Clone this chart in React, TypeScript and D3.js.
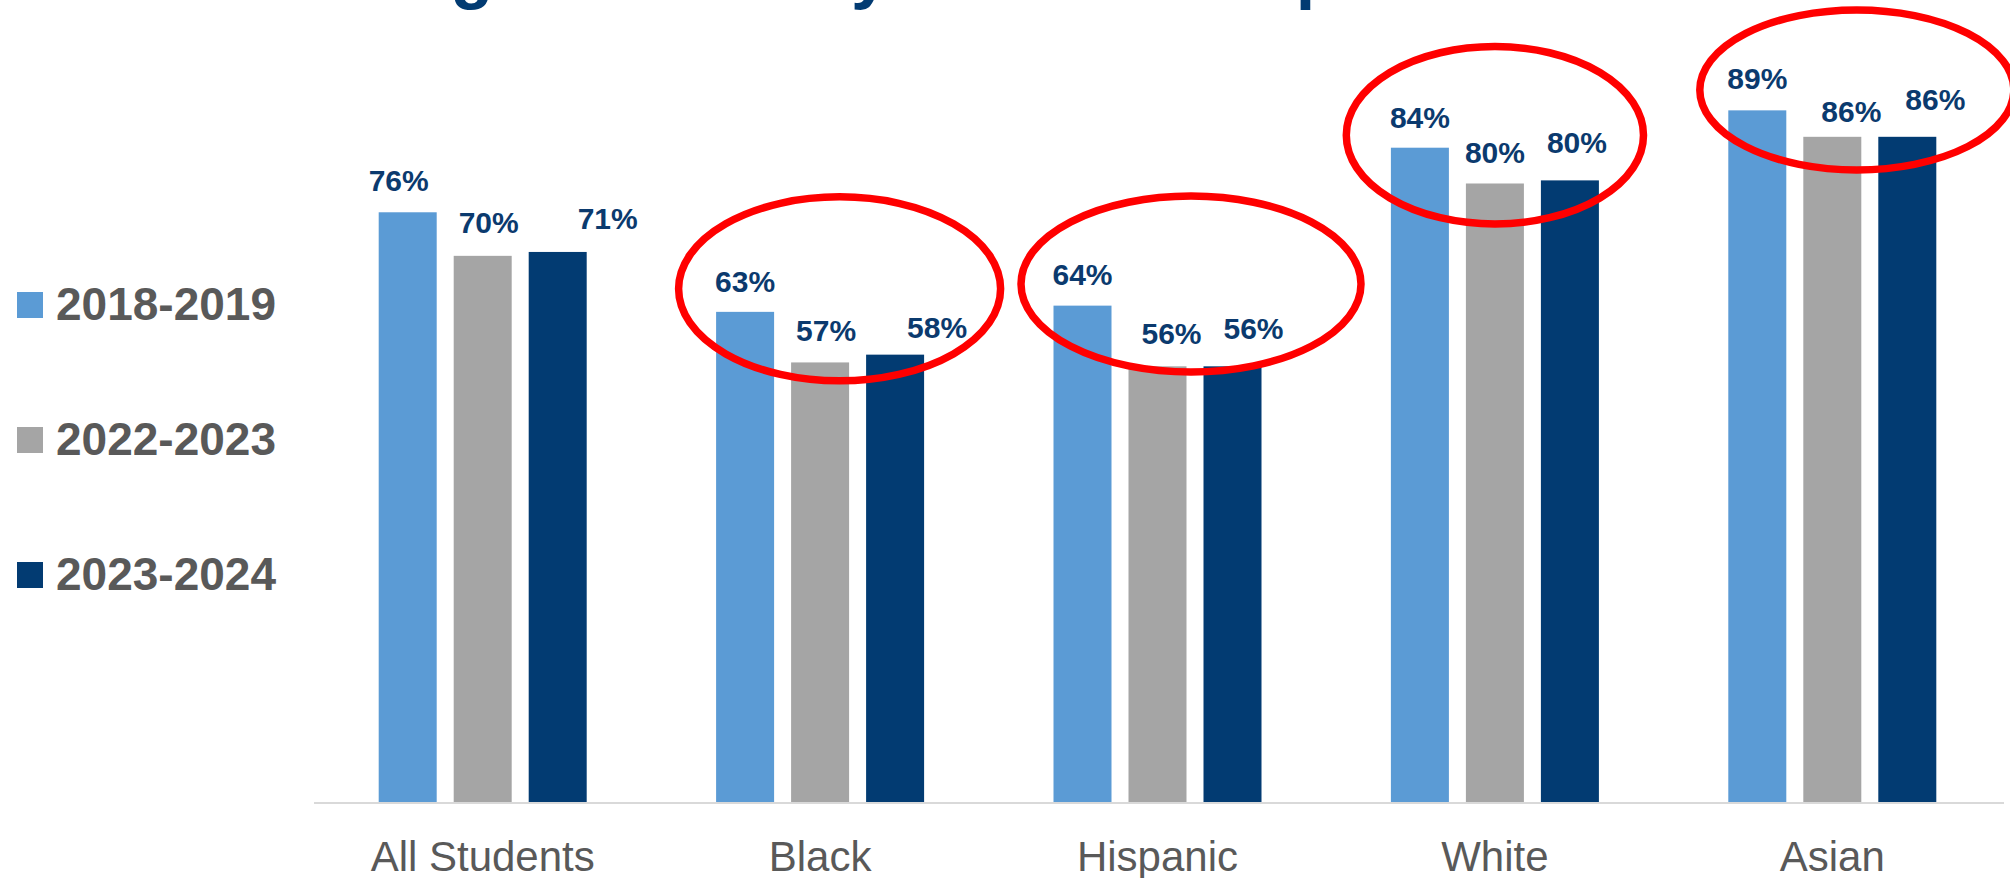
import React from "react";
import * as d3 from "d3";

const categories = ["All Students", "Black", "Hispanic", "White", "Asian"];
const seriesNames = ["2018-2019", "2022-2023", "2023-2024"];
const values2018 = [75.8, 63.0, 63.8, 84.1, 88.9];
const values2022 = [70.2, 56.5, 56.0, 79.5, 85.5];
const values2023 = [70.7, 57.5, 56.0, 79.9, 85.5];
const seriesColors = ["#5B9BD5", "#A5A5A5", "#023B72"];
const titleText = "Reading Proficiency for All Groups";

// manual label nudges (dx from bar centre, dy baseline above bar top), per series per category
const labelNudgeX = [
  [-9, 0, 0, 0, 0],
  [6, 6, 14, 0, 19],
  [50, 42, 21, 7, 28],
];
const labelNudgeY = [
  [-21, -20, -21, -20, -21],
  [-23, -21, -22, -20, -15],
  [-23, -17, -27, -27, -27],
];
// highlighted groups: category, dx from group centre, dy from tallest bar top, radii
const highlightCats = ["Black", "Hispanic", "White", "Asian"];
const highlightDx = [19.5, 33.5, 0, 24.5];
const highlightDy = [-23, -21.6, -12.5, -20.4];
const highlightRx = [161, 170, 148.6, 157];
const highlightRy = [92, 88, 88.7, 80];

const W = 2010;
const H = 878;

export default function App() {
  const seriesValues = [values2018, values2022, values2023];
  const x0 = d3.scaleBand<string>().domain(categories).range([314, 2001]).padding(0);
  const groupWidth = 208;
  const x1 = d3
    .scaleBand<number>()
    .domain([0, 1, 2])
    .range([0, groupWidth])
    .paddingInner(17 / 75)
    .paddingOuter(0);
  const y = d3.scaleLinear().domain([0, 100]).range([802, 24]);
  const groupLeft = (c: string) => (x0(c) as number) + (x0.bandwidth() - groupWidth) / 2;
  const fontFam = "'Liberation Sans', Arial, sans-serif";

  return (
    <svg
      width={W}
      height={H}
      style={{ position: "absolute", left: 0, top: 0, background: "#fff" }}
      fontFamily={fontFam}
    >
      <rect x={0} y={0} width={W} height={H} fill="#fff" />
      <text x={217} y={-5} fontSize={70} fontWeight="bold" fill="#023B72">
        {titleText}
      </text>

      {/* bars */}
      {seriesValues.map((vals, si) =>
        categories.map((c, ci) => (
          <rect
            key={`b-${si}-${ci}`}
            x={groupLeft(c) + (x1(si) as number)}
            y={y(vals[ci])}
            width={x1.bandwidth()}
            height={y(0) - y(vals[ci])}
            fill={seriesColors[si]}
          />
        ))
      )}

      {/* axis line */}
      <line x1={314} x2={2004} y1={y(0) + 1} y2={y(0) + 1} stroke="#D9D9D9" strokeWidth={2} />

      {/* category labels */}
      {categories.map((c) => (
        <text
          key={`c-${c}`}
          x={(x0(c) as number) + x0.bandwidth() / 2}
          y={871}
          textAnchor="middle"
          fontSize={42}
          fill="#595959"
        >
          {c}
        </text>
      ))}

      {/* data labels */}
      {seriesValues.map((vals, si) =>
        categories.map((c, ci) => (
          <text
            key={`l-${si}-${ci}`}
            x={groupLeft(c) + (x1(si) as number) + x1.bandwidth() / 2 + labelNudgeX[si][ci]}
            y={y(vals[ci]) + labelNudgeY[si][ci]}
            textAnchor="middle"
            fontSize={30}
            fontWeight="bold"
            fill="#0B3A6E"
          >
            {`${Math.round(vals[ci])}%`}
          </text>
        ))
      )}

      {/* highlight ellipses */}
      {highlightCats.map((c, i) => {
        const ci = categories.indexOf(c);
        const maxV = d3.max(seriesValues, (v) => v[ci]) as number;
        return (
          <ellipse
            key={`e-${c}`}
            cx={groupLeft(c) + groupWidth / 2 + highlightDx[i]}
            cy={y(maxV) + highlightDy[i]}
            rx={highlightRx[i]}
            ry={highlightRy[i]}
            fill="none"
            stroke="#FF0000"
            strokeWidth={7.5}
          />
        );
      })}

      {/* legend */}
      {seriesNames.map((s, i) => (
        <g key={`lg-${s}`} transform={`translate(17, ${292 + i * 135})`}>
          <rect x={0} y={0} width={26} height={26} fill={seriesColors[i]} />
          <text x={39} y={28} fontSize={46} fontWeight="bold" fill="#595959">
            {s}
          </text>
        </g>
      ))}
    </svg>
  );
}
